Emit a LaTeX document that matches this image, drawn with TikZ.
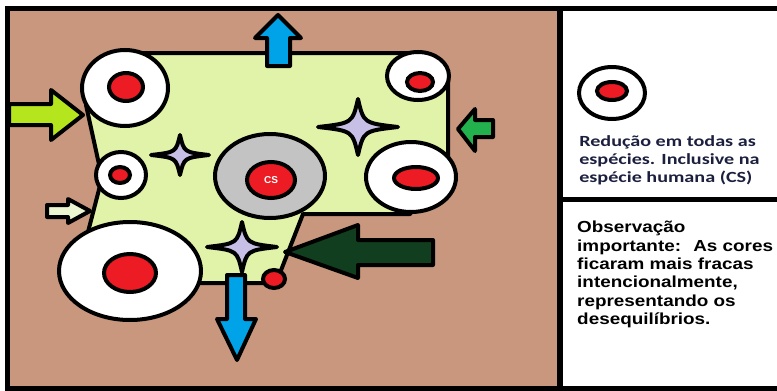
\documentclass[tikz,border=0pt]{standalone}
\usepackage{fontspec}
\setmainfont{Liberation Sans}
\newfontfamily\calibriLike{Carlito}
\usetikzlibrary{shapes.geometric}
\definecolor{soilBrown}{RGB}{200,151,126}
\definecolor{patchGreen}{RGB}{225,243,168}
\definecolor{cellRed}{RGB}{237,28,36}
\definecolor{ringGray}{RGB}{195,195,195}
\definecolor{starLilac}{RGB}{200,191,231}
\definecolor{flowBlue}{RGB}{0,162,232}
\definecolor{limeIn}{RGB}{181,230,29}
\definecolor{paleIn}{RGB}{236,246,208}
\definecolor{greenIn}{RGB}{34,177,76}
\definecolor{darkIn}{RGB}{16,62,30}
\definecolor{navyText}{RGB}{28,32,62}

\begin{document}
\begin{tikzpicture}[x=1pt, y=-1pt,
    ring/.style={ellipse, draw=black, line width=4pt, fill=white, inner sep=0pt},
    core/.style={ring, fill=cellRed},
    sparkle/.style={draw=black, line width=4pt, fill=starLilac, line join=round},
    fatArrow/.style={draw=black, line width=4pt, line join=round},
    legendText/.style={font=\calibriLike\bfseries\fontsize{15.5}{18}\selectfont, text=navyText, align=left, inner sep=0pt, transform shape, xscale=1.3},
    noteText/.style={font=\bfseries\fontsize{16}{18.4}\selectfont, align=left, inner sep=0pt, transform shape, xscale=1.18}
]
\useasboundingbox (0,0) rectangle (777,391);
\fill[white] (0,0) rectangle (777,391);
\fill[soilBrown] (7,8) rectangle (560,388);

% habitat patch
\draw[fill=patchGreen, line width=4pt, line join=round]
  (110,53) -- (415,53) -- (448,80) -- (448,165) -- (410,214) -- (303,214)
  -- (278,278) -- (272,283) -- (150,283) -- (88,232) -- (102,178) -- (86,105) -- cycle;

% populations
\node[ring, minimum width=86pt, minimum height=76pt] (ringNW) at (125,88) {};
\node[core, minimum width=34pt, minimum height=28pt] (coreNW) at (126,87) {};
\node[ring, minimum width=62pt, minimum height=48pt] (ringNE) at (418,76) {};
\node[core, minimum width=26pt, minimum height=18pt] (coreNE) at (420,82) {};
\node[ring, minimum width=50pt, minimum height=46pt] (ringW) at (121,175) {};
\node[core, minimum width=20pt, minimum height=16pt] (coreW) at (120,175) {};
\node[ring, minimum width=90pt, minimum height=70pt] (ringE) at (411,177) {};
\node[core, minimum width=44pt, minimum height=22pt] (coreE) at (416,178) {};
\node[ring, minimum width=142pt, minimum height=98pt] (ringSW) at (130,271) {};
\node[core, minimum width=52pt, minimum height=38pt] (coreSW) at (130,273) {};
\node[ring, fill=ringGray, minimum width=110pt, minimum height=84pt] (ringCS) at (270,176) {};
\node[core, minimum width=48pt, minimum height=36pt, text=white,
      font=\bfseries\fontsize{10}{10}\selectfont] (coreCS) at (271,180) {CS};
\node[core, minimum width=22pt, minimum height=18pt] (dotS) at (274,279) {};

% sparkles
\draw[sparkle, shift={(180,155)}, xscale=29, yscale=20] (1,0) .. controls (0.14,-0.14) .. (0,-1) .. controls (-0.14,-0.14) .. (-1,0)
  .. controls (-0.14,0.14) .. (0,1) .. controls (0.14,0.14) .. (1,0) -- cycle;
\draw[sparkle, shift={(358,127)}, xscale=40, yscale=28] (1,0) .. controls (0.14,-0.14) .. (0,-1) .. controls (-0.14,-0.14) .. (-1,0)
  .. controls (-0.14,0.14) .. (0,1) .. controls (0.14,0.14) .. (1,0) -- cycle;
\draw[sparkle, shift={(242,247)}, xscale=35, yscale=25] (1,0) .. controls (0.14,-0.14) .. (0,-1) .. controls (-0.14,-0.14) .. (-1,0)
  .. controls (-0.14,0.14) .. (0,1) .. controls (0.14,0.14) .. (1,0) -- cycle;

% flows
\draw[fatArrow, fill=flowBlue] (267,66) -- (267,38) -- (255,38) -- (278,15) -- (301,38) -- (290,38) -- (290,66) -- cycle;
\draw[fatArrow, fill=flowBlue] (227,275) -- (245,275) -- (245,319) -- (256,319) -- (237,360) -- (217,319) -- (227,319) -- cycle;
\draw[fatArrow, fill=limeIn] (9,104) -- (51,104) -- (51,90) -- (83,115) -- (51,140) -- (51,125) -- (9,125) -- cycle;
\draw[fatArrow, fill=paleIn] (47,205) -- (68,205) -- (68,199) -- (90,211) -- (68,223) -- (68,217) -- (47,217) -- cycle;
\draw[fatArrow, fill=greenIn] (493,120) -- (475,120) -- (475,109) -- (458,129) -- (475,151) -- (475,137) -- (493,137) -- cycle;
\draw[fatArrow, fill=darkIn] (433,240) -- (358,240) -- (358,225) -- (285,252) -- (358,278) -- (358,265) -- (433,265) -- cycle;

% frame
\draw[line width=5pt] (777,8) -- (7,8) -- (7,388) -- (777,388);
\draw[line width=6pt] (560,8) -- (560,388);
\draw[line width=5pt] (560,199.5) -- (777,199.5);

% legend
\node[ring, minimum width=66pt, minimum height=52pt] (ringKey) at (612,93) {};
\node[core, minimum width=30pt, minimum height=18pt] (coreKey) at (612,91) {};
\node[legendText, anchor=north west] (keyText) at (579,135) {Redução em todas as\\espécies. Inclusive na\\espécie humana (CS)};
\node[noteText, anchor=north west] (noteBox) at (577,221) {Observação\\importante:~ As cores\\ficaram mais fracas\\intencionalmente,\\representando os\\desequilíbrios.};
\end{tikzpicture}
\end{document}
